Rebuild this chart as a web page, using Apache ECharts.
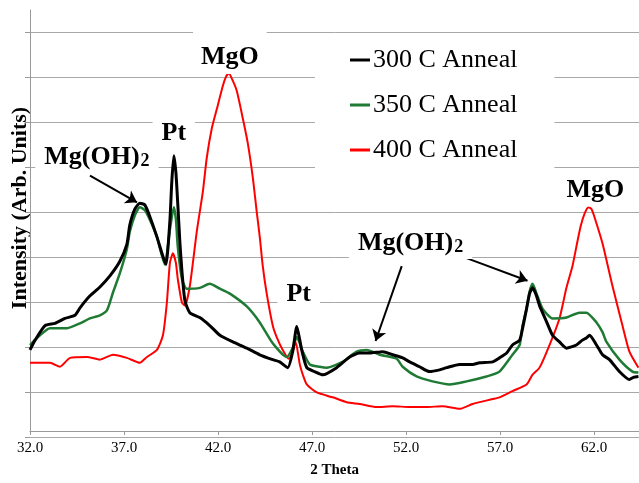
<!DOCTYPE html>
<html>
<head>
<meta charset="utf-8">
<script src="https://cdn.jsdelivr.net/npm/echarts@6/dist/echarts.min.js"></script>
<style>
  html, body { margin: 0; padding: 0; background: #ffffff; }
  #chart { width: 639px; height: 483px; }
</style>
</head>
<body>
<div id="chart"></div>
<script>
// XRD scans of Mg films after annealing (2-theta in degrees, intensity in arbitrary units)
const seriesNames = ['300 C Anneal', '350 C Anneal', '400 C Anneal'];
const seriesColors = ['#000000', '#1f7a34', '#ff0000'];

const theta300 = [32.00,32.27,32.80,33.33,33.86,34.39,34.66,35.19,35.72,36.25,36.78,37.15,37.31,37.58,37.84,38.11,38.38,38.75,39.07,39.23,39.44,39.54,39.65,39.76,39.86,39.97,40.08,40.24,40.50,41.03,41.56,42.10,42.79,43.53,44.22,44.91,45.28,45.71,45.97,46.19,46.35,46.45,46.72,47.14,47.57,48.31,49.00,49.53,50.07,50.76,51.29,51.82,52.19,52.72,53.25,53.79,54.16,54.85,55.54,55.91,56.60,56.97,57.35,57.66,58.04,58.20,58.41,58.57,58.73,58.94,59.10,59.47,59.79,60.16,60.53,61.06,61.38,61.59,61.76,62.13,62.45,62.82,63.35,63.88,64.09,64.36];
const int300 = [1.83,2.05,2.38,2.43,2.54,2.61,2.78,3.05,3.25,3.50,3.83,4.21,4.65,5.01,5.14,5.10,4.83,4.38,3.94,3.76,4.74,5.61,6.21,5.83,5.12,4.27,3.61,2.94,2.67,2.56,2.38,2.16,2.01,1.87,1.72,1.61,1.56,1.43,1.79,2.36,2.05,1.83,1.43,1.34,1.27,1.43,1.67,1.76,1.76,1.79,1.72,1.65,1.56,1.45,1.34,1.38,1.43,1.50,1.50,1.54,1.56,1.65,1.76,1.94,2.05,2.32,2.76,3.10,3.23,3.05,2.83,2.47,2.16,2.01,1.87,1.94,2.05,2.10,2.16,1.94,1.72,1.61,1.34,1.16,1.21,1.23];

const theta350 = [32.00,32.53,33.06,33.97,34.66,35.19,35.72,36.09,36.41,36.78,37.15,37.31,37.58,37.84,38.11,38.38,38.75,39.17,39.44,39.65,39.76,39.86,40.08,40.34,41.03,41.56,42.10,42.63,43.53,44.22,44.91,45.66,45.97,46.19,46.35,46.51,46.88,47.41,47.78,48.63,49.37,49.91,50.60,51.50,51.82,52.56,53.41,54.32,55.22,56.28,56.97,57.66,58.04,58.20,58.41,58.57,58.73,58.94,59.26,59.79,60.53,61.22,61.59,62.13,62.45,62.66,63.35,64.04,64.36];
const int350 = [1.94,2.16,2.32,2.32,2.43,2.54,2.61,2.72,3.12,3.56,4.10,4.50,4.87,5.05,4.98,4.76,4.38,3.76,4.54,5.05,4.78,4.16,3.43,3.21,3.23,3.32,3.21,3.10,2.81,2.45,1.98,1.67,1.87,2.12,1.98,1.79,1.50,1.45,1.43,1.56,1.79,1.83,1.72,1.63,1.45,1.23,1.12,1.05,1.12,1.23,1.34,1.72,1.94,2.38,2.76,3.14,3.32,3.10,2.76,2.54,2.56,2.67,2.67,2.45,2.23,2.01,1.61,1.34,1.32];

const theta400 = [32.00,33.06,33.59,34.13,35.03,35.72,36.41,37.15,37.84,38.22,38.75,39.07,39.28,39.44,39.60,39.76,39.86,40.08,40.24,40.50,40.87,41.19,41.40,41.67,41.94,42.25,42.41,42.57,42.79,43.00,43.32,43.58,43.85,44.06,44.22,44.38,44.59,44.91,45.12,45.44,45.76,45.97,46.13,46.35,46.51,46.72,47.25,48.10,48.84,49.53,50.44,51.29,52.19,53.09,53.94,54.85,55.54,56.60,56.97,57.66,58.41,58.73,59.10,59.63,60.16,60.53,60.85,61.06,61.28,61.49,61.70,61.86,62.02,62.45,62.98,63.51,63.88,64.36];
const int400 = [1.54,1.54,1.45,1.65,1.67,1.61,1.72,1.65,1.54,1.67,1.83,2.16,2.90,3.79,4.01,3.79,3.43,2.90,2.83,3.27,4.50,5.39,6.16,6.83,7.27,7.78,7.98,8.07,7.90,7.67,7.05,6.50,5.72,4.94,4.38,3.72,3.10,2.38,2.12,1.83,1.63,1.79,2.01,1.50,1.27,1.05,0.87,0.76,0.65,0.61,0.54,0.56,0.54,0.54,0.56,0.50,0.61,0.72,0.76,0.90,1.05,1.27,1.43,1.94,2.54,3.23,3.72,4.16,4.61,4.90,5.05,5.01,4.83,4.23,3.27,2.38,1.79,1.43];

// Axis ranges
const xMin = 32, xMax = 64.39, xStep = 5;
const yMax = 9.5, yGridTop = 9;

// Peak annotations: text, 2-theta, intensity
const peakNames = ['MgO', 'Pt', 'Mg(OH)2', 'Pt', 'Mg(OH)2', 'MgO'];
const peakTheta = [42.63, 39.65, 35.56, 46.29, 52.24, 62.07];
const peakInt   = [8.54, 6.76, 6.23, 3.12, 4.29, 5.47];

// Arrows from the hydroxide labels to their peaks
const arrowFrom = [[35.19, 5.76], [51.77, 3.72], [55.22, 3.90]];
const arrowTo   = [[37.69, 5.16], [50.38, 2.03], [58.46, 3.39]];

const FONT = '"Liberation Serif", "Times New Roman", serif';

function zip(xs, ys) {
  const n = Math.min(xs.length, ys.length);
  const out = [];
  for (let i = 0; i < n; i++) out.push([xs[i], ys[i]]);
  return out;
}

const chart = echarts.init(document.getElementById('chart'), null, { renderer: 'canvas' });

const gridTop = 10, gridBottom = 46, chartH = 483;
const plotH = chartH - gridTop - gridBottom;
// second grid carries the horizontal gridlines, ending at the top gridline
const grid2Top = gridTop + (yMax - yGridTop) / yMax * plotH;

function labelText(name) {
  return name === 'Mg(OH)2' ? '{m|Mg(OH)}{s|2}' : '{m|' + name + '}';
}

const peakPoints = peakNames.map((n, i) => ({
  coord: [peakTheta[i], peakInt[i]],
  value: n,
  label: {
    padding: n === 'MgO' && i === 0 ? [9, 8, 4, 8] : [3, 9, 3, 9]
  }
}));

const arrowLines = arrowFrom.map((a, i) => [
  { coord: a },
  { coord: arrowTo[i] }
]);

const lineWidths = [3, 2.5, 2];
const datasets = [zip(theta300, int300), zip(theta350, int350), zip(theta400, int400)];

const series = datasets.map((d, i) => ({
  name: seriesNames[i],
  type: 'line',
  xAxisIndex: 0,
  yAxisIndex: 0,
  data: d,
  showSymbol: false,
  symbol: 'none',
  smooth: 0.2,
  animation: false,
  z: 5 - i,
  lineStyle: { color: seriesColors[i], width: lineWidths[i] },
  itemStyle: { color: seriesColors[i] }
}));

// Annotations ride on an empty series so they sit above the traces
series.push({
  name: 'notes',
  type: 'line',
  xAxisIndex: 0,
  yAxisIndex: 0,
  data: [],
  symbol: 'none',
  animation: false,
  z: 10,
  markPoint: {
    symbol: 'circle',
    symbolSize: 0,
    silent: true,
    animation: false,
    label: {
      show: true,
      position: 'inside',
      backgroundColor: '#ffffff',
      formatter: p => labelText(p.data.value),
      rich: {
        m: { fontFamily: FONT, fontWeight: 'bold', fontSize: 26, color: '#000', lineHeight: 30, verticalAlign: 'bottom' },
        s: { fontFamily: FONT, fontWeight: 'bold', fontSize: 18, color: '#000', lineHeight: 30, verticalAlign: 'bottom', padding: [0, 0, 0, 1] }
      }
    },
    data: peakPoints
  },
  markLine: {
    silent: true,
    animation: false,
    symbol: ['none', 'arrow'],
    symbolSize: [11, 11],
    label: { show: false },
    lineStyle: { color: '#000000', width: 2, type: 'solid' },
    data: arrowLines
  }
});

const legendData = seriesNames.map((n, i) => ({
  name: n,
  icon: 'rect',
  itemStyle: { color: seriesColors[i], borderWidth: 0 }
}));

const option = {
  backgroundColor: '#ffffff',
  animation: false,
  textStyle: { fontFamily: FONT },
  grid: [
    { left: 30, right: -1, top: gridTop, bottom: gridBottom, containLabel: false },
    { left: 30, right: -1, top: grid2Top, bottom: gridBottom, containLabel: false }
  ],
  legend: {
    data: legendData,
    orient: 'vertical',
    left: 315,
    top: 35,
    padding: [10, 37, 15, 35],
    itemGap: 15,
    itemWidth: 20,
    itemHeight: 3,
    backgroundColor: '#ffffff',
    textStyle: { fontFamily: FONT, fontSize: 26, color: '#000', lineHeight: 30, padding: [0, 0, 0, -2] },
    selectedMode: false
  },
  xAxis: [
    {
      type: 'value',
      gridIndex: 0,
      min: xMin,
      max: xMax,
      interval: xStep,
      name: '2 Theta',
      nameLocation: 'middle',
      nameGap: 32,
      nameTextStyle: { fontFamily: FONT, fontWeight: 'bold', fontSize: 15, color: '#000' },
      axisLine: { show: true, onZero: false, lineStyle: { color: '#9a9a9a', width: 1 } },
      axisTick: { show: true, length: 4, lineStyle: { color: '#9a9a9a' } },
      axisLabel: {
        show: true,
        margin: 10,
        fontFamily: FONT,
        fontSize: 15,
        color: '#000',
        showMaxLabel: false,
        formatter: v => v.toFixed(1)
      },
      splitLine: { show: false }
    },
    {
      type: 'value',
      gridIndex: 1,
      min: xMin,
      max: xMax,
      show: false
    }
  ],
  yAxis: [
    {
      type: 'value',
      gridIndex: 0,
      min: 0,
      max: yMax,
      axisLine: { show: true, lineStyle: { color: '#9a9a9a', width: 1 } },
      axisTick: { show: false },
      axisLabel: { show: false },
      splitLine: { show: false }
    },
    {
      type: 'value',
      gridIndex: 1,
      min: 0,
      max: yGridTop,
      interval: 1,
      axisLine: { show: false },
      axisTick: { show: true, length: 5, lineStyle: { color: '#9a9a9a' } },
      axisLabel: { show: false },
      splitLine: { show: true, lineStyle: { color: '#a8a8a8', width: 1 } }
    }
  ],
  graphic: [
    {
      type: 'text',
      x: 20,
      y: 208,
      rotation: Math.PI / 2,
      style: {
        text: 'Intensity (Arb. Units)',
        font: 'bold 22px ' + FONT,
        fill: '#000',
        textAlign: 'center',
        textVerticalAlign: 'middle'
      }
    }
  ],
  series: series
};

chart.setOption(option);
</script>
</body>
</html>
